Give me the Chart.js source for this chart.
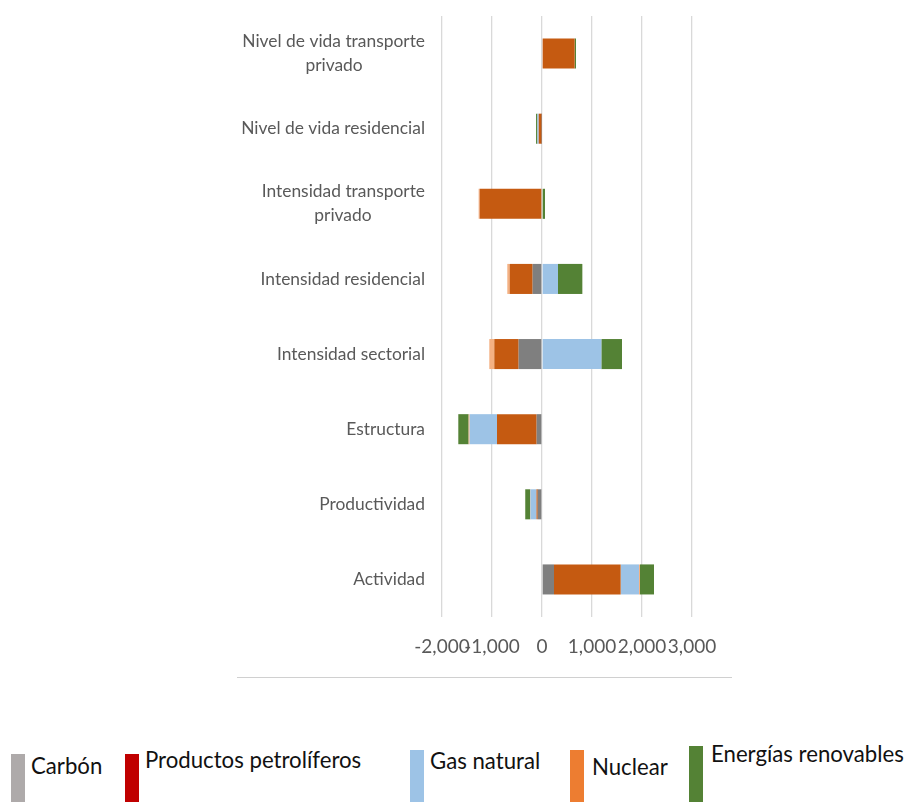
<!DOCTYPE html>
<html>
<head>
<meta charset="utf-8">
<script src="https://cdn.jsdelivr.net/npm/chart.js@4"></script>
<style>
  html, body { margin: 0; padding: 0; background: #fff; }
  body { width: 909px; height: 802px; position: relative; overflow: hidden; font-family: Lato, "Open Sans", sans-serif; }
  #wrap { position: absolute; left: 0; top: 0; width: 909px; height: 690px; }
  #hline { position: absolute; left: 237px; top: 677px; width: 495px; height: 1px; background: #d0d0d0; }
  .sw { position: absolute; width: 14px; }
  .lt { position: absolute; font-size: 22.2px; color: #111; white-space: nowrap; line-height: 1; }
</style>
</head>
<body>
<div id="wrap"><canvas id="c"></canvas></div>
<div id="hline"></div>

<div class="sw" style="left:11px;top:754px;height:48px;background:#AEAAAA"></div>
<div class="lt" style="left:31px;top:755px">Carbón</div>
<div class="sw" style="left:125px;top:754px;height:48px;background:#C00000"></div>
<div class="lt" style="left:145px;top:749px">Productos petrolíferos</div>
<div class="sw" style="left:410px;top:750px;height:52px;background:#9DC3E6"></div>
<div class="lt" style="left:430px;top:750px">Gas natural</div>
<div class="sw" style="left:570px;top:750px;height:52px;background:#ED7D31"></div>
<div class="lt" style="left:592px;top:756px">Nuclear</div>
<div class="sw" style="left:689px;top:746px;height:56px;background:#548235"></div>
<div class="lt" style="left:711px;top:743px">Energías renovables</div>

<script>
const categories = [
  "Nivel de vida transporte privado",
  "Nivel de vida residencial",
  "Intensidad transporte privado",
  "Intensidad residencial",
  "Intensidad sectorial",
  "Estructura",
  "Productividad",
  "Actividad"
];
const categoryLines = [
  ["Nivel de vida transporte", "privado"],
  ["Nivel de vida residencial"],
  ["Intensidad transporte", "privado"],
  ["Intensidad residencial"],
  ["Intensidad sectorial"],
  ["Estructura"],
  ["Productividad"],
  ["Actividad"]
];
const seriesNames = ["Carbón", "Productos petrolíferos", "Gas natural", "Nuclear", "Energías renovables"];
const carbon     = [0,   -5,    0,    -187, -467, -107, -85,  240];
const petroleum  = [653, -60, -1247, -460, -487, -793, -25, 1333];
const naturalGas = [0,  -27,    0,    320, 1187, -547, -120, 367];
const nuclear    = [0,    0,  -20,    -47, -100,  -20,  -5,   20];
const renewables = [27, -27,   60,    487,  413, -207, -100, 280];
const xTicks = [-2000, -1000, 0, 1000, 2000, 3000];

const barColors = ["#7F7F7F", "#C55A11", "#9DC3E6", "#F4B183", "#548235"];
const seriesValues = [carbon, petroleum, naturalGas, nuclear, renewables];

const labelFont = { family: "Lato", size: 17.4, lineHeight: 1.38 };

function centeredLines(scale, lines) {
  if (lines.length < 2) return lines[0];
  const ctx = scale.ctx;
  ctx.save();
  ctx.font = labelFont.size + "px " + labelFont.family;
  const widths = lines.map(l => ctx.measureText(l).width);
  const maxW = Math.max(...widths);
  const sp = ctx.measureText(" ").width;
  ctx.restore();
  return lines.map((l, i) => {
    const pad = (maxW - widths[i]) / 2;
    return l + " ".repeat(Math.max(0, Math.round(pad / sp)));
  });
}

new Chart(document.getElementById("c"), {
  type: "bar",
  data: {
    labels: categories,
    datasets: seriesNames.map((n, i) => ({
      label: n,
      data: seriesValues[i],
      backgroundColor: barColors[i],
      borderWidth: 0,
      categoryPercentage: 1,
      barPercentage: 0.4
    }))
  },
  options: {
    indexAxis: "y",
    responsive: true,
    maintainAspectRatio: false,
    animation: false,
    layout: { padding: { left: 0, right: 217, top: 16, bottom: 13 } },
    plugins: { legend: { display: false }, tooltip: { enabled: false } },
    scales: {
      x: {
        stacked: true,
        min: -2000, max: 3000,
        afterBuildTicks: s => { s.ticks = xTicks.map(v => ({ value: v })); },
        afterFit: s => { s.height = 60; },
        grid: { color: "#D9D9D9", lineWidth: 1.3, drawTicks: false },
        border: { display: false },
        ticks: {
          autoSkip: false, maxRotation: 0, padding: 18,
          color: "#595959",
          font: { family: "Lato", size: 19 },
          callback: v => v.toLocaleString("en-US")
        }
      },
      y: {
        stacked: true,
        afterFit: s => { s.width = 442; s.paddingTop = 0; s.paddingBottom = 0; },
        grid: { display: false, drawTicks: false },
        border: { display: false },
        ticks: {
          padding: 17,
          color: "#595959",
          font: labelFont,
          callback: function (v, i) { return centeredLines(this, categoryLines[i]); }
        }
      }
    }
  }
});
</script>
</body>
</html>
